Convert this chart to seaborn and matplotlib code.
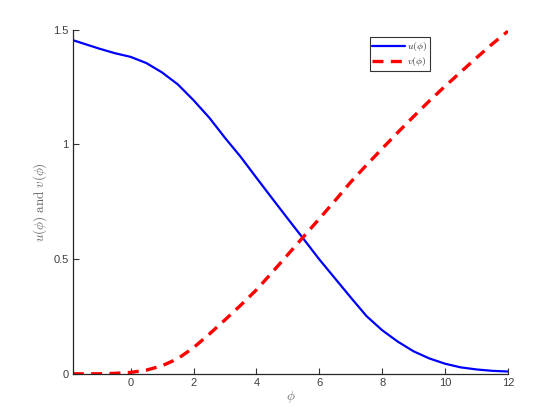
import numpy as np
import pandas as pd
import seaborn as sns
import matplotlib
matplotlib.use("Agg")
import matplotlib.pyplot as plt

# values
phi = [-1.84, -1.0, -0.5, 0.0, 0.5, 1.0, 1.5, 2.0, 2.5, 3.0, 3.5, 4.0, 4.5, 5.0,
       5.5, 6.0, 6.5, 7.0, 7.5, 8.0, 8.5, 9.0, 9.5, 10.0, 10.5, 11.0, 11.5, 12.0]
u_vals = [1.455, 1.418, 1.398, 1.382, 1.355, 1.314, 1.262, 1.193, 1.117, 1.029,
          0.946, 0.855, 0.765, 0.676, 0.588, 0.499, 0.416, 0.333, 0.252, 0.190,
          0.140, 0.098, 0.067, 0.044, 0.028, 0.019, 0.013, 0.010]
v_vals = [0.0, 0.0, 0.002, 0.006, 0.016, 0.035, 0.066, 0.114, 0.173, 0.235,
          0.299, 0.366, 0.442, 0.520, 0.598, 0.676, 0.755, 0.836, 0.910, 0.982,
          1.053, 1.122, 1.190, 1.254, 1.316, 1.378, 1.438, 1.494]
x_ticks = [0, 2, 4, 6, 8, 10, 12]
y_ticks = [0, 0.5, 1, 1.5]
y_ticklabels = ["0", "0.5", "1", "1.5"]

df = pd.DataFrame({"phi": phi, "u": u_vals, "v": v_vals})

sns.set_style("ticks")
plt.rcParams["font.family"] = ["Liberation Sans", "DejaVu Sans"]
plt.rcParams["mathtext.fontset"] = "cm"
plt.rcParams["xtick.direction"] = "in"
plt.rcParams["ytick.direction"] = "in"

fig = plt.figure(figsize=(5.6, 4.2), dpi=100)
ax = fig.add_axes([0.13, 0.11, 0.777, 0.819])

# solid u, dashed v
sns.lineplot(data=df, x="phi", y="u", ax=ax, color="blue", linewidth=1.6,
             label=r"$u(\phi)$")
sns.lineplot(data=df, x="phi", y="v", ax=ax, color="red", linewidth=2.4,
             linestyle=(0, (3.3, 2.2)), label=r"$v(\phi)$")

ax.set_xlim(-1.84, 12)
ax.set_ylim(0, 1.5)
ax.set_xticks(x_ticks)
ax.set_yticks(y_ticks)
ax.set_yticklabels(y_ticklabels)
ax.tick_params(labelsize=8, colors="#333333", length=4, width=0.8, pad=3)
ax.tick_params(labelcolor="#404040")
for s in ["left", "bottom"]:
    ax.spines[s].set_linewidth(0.9)
    ax.spines[s].set_color("#262626")
sns.despine(ax=ax)

ax.set_xlabel(r"$\phi$", fontsize=9.5, color="#666666", labelpad=1)
ax.set_ylabel(r"$u(\phi)\ \mathrm{and}\ v(\phi)$", fontsize=9.5, color="#666666",
              labelpad=3)

leg = ax.legend(loc="upper left", bbox_to_anchor=(0.682, 0.978), fontsize=7,
                frameon=True, fancybox=False, edgecolor="black",
                handlelength=3.3, handletextpad=0.3, borderpad=0.3,
                labelspacing=0.2, borderaxespad=0)
leg.get_frame().set_linewidth(0.8)

fig.savefig("out.png", dpi=100)
